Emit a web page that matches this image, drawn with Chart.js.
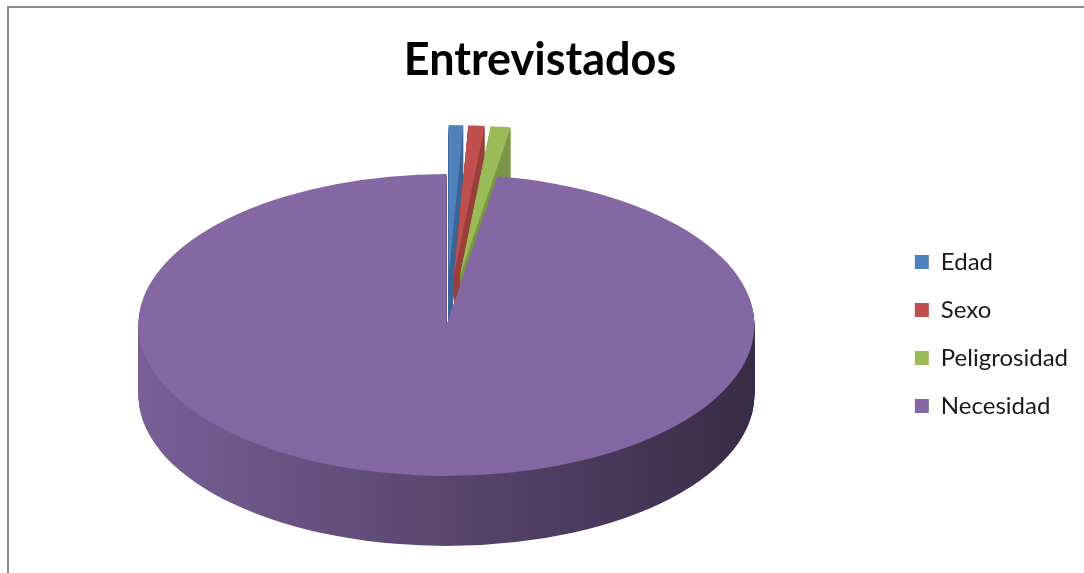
<!DOCTYPE html>
<html>
<head>
<meta charset="utf-8">
<script src="https://cdn.jsdelivr.net/npm/chart.js@4.4.1/dist/chart.umd.min.js"></script>
<style>
  html, body { margin: 0; padding: 0; background: #fff; overflow: hidden; }
  #wrap { position: relative; width: 1084px; height: 573px; }
  #frame { position: absolute; left: 7px; top: 6px; right: -20px; bottom: -20px;
           border-top: 2px solid #8c8c8c; border-left: 2px solid #8c8c8c; }
  #chart { position: absolute; left: 0; top: 0; }
</style>
</head>
<body>
<div id="wrap">
  <div id="frame"></div>
  <canvas id="chart" width="1084" height="573"></canvas>
</div>
<script>
// data
const categories = ['Edad', 'Sexo', 'Peligrosidad', 'Necesidad'];
const values = [0.75, 0.85, 1.05, 97.35];
const exploded = [true, true, true, false];

// styles
const colors = ['#4F81BD', '#C0504D', '#9BBB59', '#8467A3'];
const TILT = 0.49;     // vertical squash of the pie top
const DEPTH = 70;      // thickness of the pie, px
const LIFT = 9;        // raise the pie above the chart area centre
const EXPLODE = 100;   // pull-out distance of exploded slices

function shade(hex, f) {
  const n = parseInt(hex.slice(1), 16);
  const r = Math.round(((n >> 16) & 255) * f);
  const g = Math.round(((n >> 8) & 255) * f);
  const b = Math.round((n & 255) * f);
  return `rgb(${r},${g},${b})`;
}

const pie3d = {
  id: 'pie3d',
  beforeDatasetsDraw(chart) {
    const ctx = chart.ctx;
    const arcs = chart.getDatasetMeta(0).data;
    const cx = arcs[0].x, cy = arcs[0].y, r = arcs[0].outerRadius;

    // back slices (exploded) first, the big one last
    const order = arcs.map((a, i) => i).sort((a, b) => (exploded[b] ? 1 : 0) - (exploded[a] ? 1 : 0));

    const project = (i, down) => {
      const arc = arcs[i];
      const mid = (arc.startAngle + arc.endAngle) / 2;
      ctx.translate(0, down - LIFT);
      ctx.translate(cx, cy);
      ctx.scale(1, TILT);
      ctx.translate(-cx, -cy);
      if (exploded[i]) ctx.translate(Math.cos(mid) * EXPLODE, Math.sin(mid) * EXPLODE);
    };

    order.forEach(i => {
      const arc = arcs[i];
      // side wall
      let fill;
      if (exploded[i]) {
        fill = shade(colors[i], 0.8);
      } else {
        fill = ctx.createLinearGradient(cx - r, 0, cx + r, 0);
        fill.addColorStop(0, shade(colors[i], 0.92));
        fill.addColorStop(0.5, shade(colors[i], 0.68));
        fill.addColorStop(1, shade(colors[i], 0.43));
      }
      for (let d = DEPTH; d >= 1; d--) {
        ctx.save();
        project(i, d);
        ctx.beginPath();
        ctx.moveTo(arc.x, arc.y);
        ctx.arc(arc.x, arc.y, arc.outerRadius, arc.startAngle, arc.endAngle);
        ctx.closePath();
        ctx.fillStyle = fill;
        ctx.fill();
        ctx.restore();
      }
      // top face
      ctx.save();
      project(i, 0);
      arc.draw(ctx);
      ctx.restore();
    });
    return false;
  }
};

const chart = new Chart(document.getElementById('chart'), {
  type: 'pie',
  data: {
    labels: categories,
    datasets: [{
      data: values,
      backgroundColor: colors,
      borderWidth: 0,
      radius: 308
    }]
  },
  options: {
    responsive: false,
    animation: false,
    layout: { padding: { left: 2, right: 6, top: 0, bottom: 3 } },
    plugins: {
      title: {
        display: true,
        text: 'Entrevistados',
        color: '#000',
        font: { family: 'Lato', size: 45, weight: 'bold', lineHeight: 1.2 },
        padding: { top: 33, bottom: 11 }
      },
      legend: {
        position: 'right',
        fullSize: false,
        labels: {
          color: '#1a1a1a',
          font: { family: 'Lato', size: 24 },
          boxWidth: 14,
          boxHeight: 14,
          padding: 24
        }
      },
      tooltip: { enabled: false }
    }
  },
  plugins: [pie3d]
});
</script>
</body>
</html>
